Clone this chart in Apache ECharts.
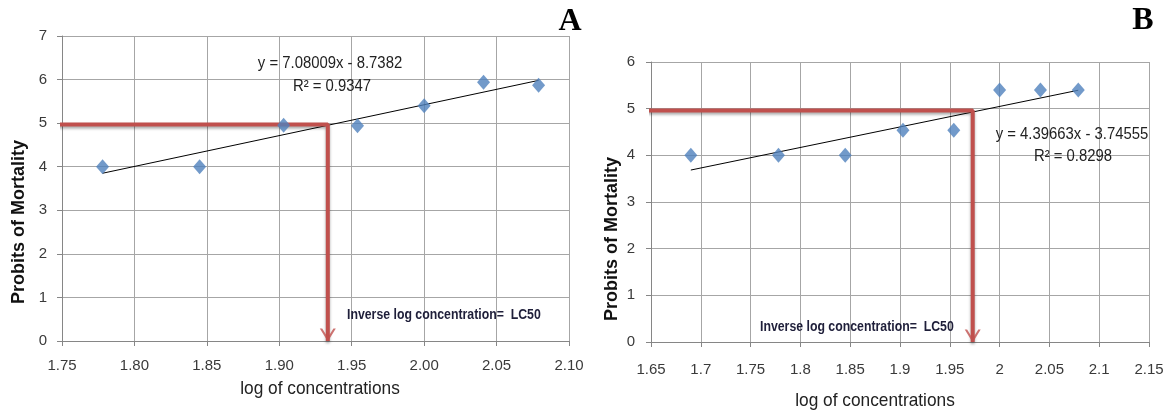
<!DOCTYPE html>
<html>
<head>
<meta charset="utf-8">
<script src="https://cdn.jsdelivr.net/npm/echarts@6/dist/echarts.min.js"></script>
<style>
html,body{margin:0;padding:0;background:#fff;}
#chart{width:1164px;height:411px;}
</style>
</head>
<body>
<div id="chart"></div>
<script>
// ---- Panel A data ----
const xA = [1.778, 1.845, 1.903, 1.954, 2.000, 2.041, 2.079];
const yA = [4.00, 4.00, 4.95, 4.94, 5.40, 5.94, 5.87];
const slopeA = 7.08009, interceptA = -8.7382;
const lc50A = 1.9335, levelA = 4.97, refStartA = 1.747;
const xTicksA = ['1.75','1.80','1.85','1.90','1.95','2.00','2.05','2.10'];
const yTicksA = ['0','1','2','3','4','5','6','7'];

// ---- Panel B data ----
const xB = [1.690, 1.778, 1.845, 1.903, 1.954, 2.000, 2.041, 2.079];
const yB = [4.00, 4.00, 4.00, 4.54, 4.54, 5.40, 5.40, 5.40];
const slopeB = 4.39663, interceptB = -3.74555;
const lc50B = 1.973, levelB = 4.96, refStartB = 1.644;
const xTicksB = ['1.65','1.7','1.75','1.8','1.85','1.9','1.95','2','2.05','2.1','2.15'];
const yTicksB = ['0','1','2','3','4','5','6'];

const FONT = '"Liberation Sans", Arial, sans-serif';
const RED = '#c0504d';
const BLUE = '#4f81bd';
const GRID = '#a6a6a6';
const AXIS = '#868686';

const chevron = 'path://M0,0 L3,0 L10,9 L17,0 L20,0 L10,13 Z';

function pts(xs, ys){ return xs.map((x,i)=>[x, ys[i]]); }
function trend(xs, m, b){
  const x0 = xs[0], x1 = xs[xs.length-1];
  return [[x0, m*x0+b],[x1, m*x1+b]];
}

function xAxisCfg(gi, min, max, labels, margin){
  return {
    type:'value', gridIndex:gi, min:min, max:max, interval:0.05,
    axisLine:{show:true, onZero:false, lineStyle:{color:AXIS, width:1}},
    axisTick:{show:true, length:5, lineStyle:{color:AXIS}},
    splitLine:{show:true, lineStyle:{color:GRID, width:1}},
    axisLabel:{fontFamily:FONT, fontSize:15, color:'#3a3a3a', margin:margin,
      formatter:(v,i)=>labels[i]!==undefined?labels[i]:String(v)}
  };
}
function yAxisCfg(gi, max, labels, margin){
  return {
    type:'value', gridIndex:gi, min:0, max:max, interval:1,
    axisLine:{show:true, lineStyle:{color:AXIS, width:1}},
    axisTick:{show:true, length:5, lineStyle:{color:AXIS}},
    splitLine:{show:true, lineStyle:{color:GRID, width:1}},
    axisLabel:{fontFamily:FONT, fontSize:15, color:'#3a3a3a', margin:margin,
      formatter:(v,i)=>labels[i]!==undefined?labels[i]:String(v)}
  };
}

function redSeries(idx, start, lc50, level){
  return [{
    type:'line', xAxisIndex:idx, yAxisIndex:idx, clip:false, symbol:'none', z:4,
    lineStyle:{color:RED, width:4, shadowColor:'rgba(0,0,0,0.35)', shadowBlur:3, shadowOffsetY:2},
    data:[[start, level],[lc50, level],[lc50, 0]]
  },{
    type:'scatter', xAxisIndex:idx, yAxisIndex:idx, clip:false, z:5,
    symbol:chevron, symbolSize:[16,13], symbolOffset:[0,-6],
    itemStyle:{color:RED},
    data:[[lc50, 0]]
  }];
}

function txt(s, x, y, font, opts){
  return Object.assign({type:'text', x:x, y:y, z:10,
    style:{text:s, font:font, fill:'#222', textAlign:'center', textVerticalAlign:'middle'}}, opts||{});
}

const eqFont = '16px ' + FONT;
const lcFont = 'bold 15px ' + FONT;
const nameFont = '19px ' + FONT;
const yNameFont = 'bold 18px ' + FONT;
const letterFont = 'bold 32px "Liberation Serif", "Times New Roman", serif';

const chart = echarts.init(document.getElementById('chart'), null, {renderer:'canvas'});
chart.setOption({
  animation:false,
  backgroundColor:'#ffffff',
  grid:[
    {left:62, top:36, width:507, height:305, containLabel:false, outerBoundsMode:'none'},
    {left:651, top:62, width:498, height:280, containLabel:false, outerBoundsMode:'none'}
  ],
  xAxis:[ xAxisCfg(0, 1.75, 2.10, xTicksA, 17), xAxisCfg(1, 1.65, 2.15, xTicksB, 20) ],
  yAxis:[ yAxisCfg(0, 7, yTicksA, 15), yAxisCfg(1, 6, yTicksB, 16) ],
  series:[
    ...redSeries(0, refStartA, lc50A, levelA),
    {type:'line', xAxisIndex:0, yAxisIndex:0, symbol:'none', z:3,
     lineStyle:{color:'#000', width:1}, data:trend(xA, slopeA, interceptA)},
    {type:'scatter', xAxisIndex:0, yAxisIndex:0, symbol:'diamond', symbolSize:[13,15], z:6,
     itemStyle:{color:BLUE}, data:pts(xA, yA)},
    ...redSeries(1, refStartB, lc50B, levelB),
    {type:'line', xAxisIndex:1, yAxisIndex:1, symbol:'none', z:3,
     lineStyle:{color:'#000', width:1}, data:trend(xB, slopeB, interceptB)},
    {type:'scatter', xAxisIndex:1, yAxisIndex:1, symbol:'diamond', symbolSize:[13,15], z:6,
     itemStyle:{color:BLUE}, data:pts(xB, yB)}
  ],
  graphic:[
    txt('A', 570, 22, letterFont, {style:{text:'A', font:letterFont, fill:'#000', textAlign:'center', textVerticalAlign:'middle'}}),
    txt('B', 1143, 21, letterFont, {style:{text:'B', font:letterFont, fill:'#000', textAlign:'center', textVerticalAlign:'middle'}}),
    txt('y = 7.08009x - 8.7382', 330, 64, eqFont, {scaleX:0.93}),
    txt('R² = 0.9347', 332, 87, eqFont, {scaleX:0.93}),
    txt('y = 4.39663x - 3.74555', 1072, 135, eqFont, {scaleX:0.93}),
    txt('R² = 0.8298', 1073, 157, eqFont, {scaleX:0.93}),
    txt('Inverse log concentration=  LC50', 347, 315, lcFont, {scaleX:0.82,
      style:{text:'Inverse log concentration=  LC50', font:lcFont, fill:'#1f1f3a', textAlign:'left', textVerticalAlign:'middle'}}),
    txt('Inverse log concentration=  LC50', 760, 327, lcFont, {scaleX:0.82,
      style:{text:'Inverse log concentration=  LC50', font:lcFont, fill:'#1f1f3a', textAlign:'left', textVerticalAlign:'middle'}}),
    txt('log of concentrations', 320, 389, nameFont, {scaleX:0.91}),
    txt('log of concentrations', 875, 401, nameFont, {scaleX:0.91}),
    txt('Probits of Mortality', 19, 222, yNameFont, {rotation:Math.PI/2,
      style:{text:'Probits of Mortality', font:yNameFont, fill:'#111', textAlign:'center', textVerticalAlign:'middle'}}),
    txt('Probits of Mortality', 612, 239, yNameFont, {rotation:Math.PI/2,
      style:{text:'Probits of Mortality', font:yNameFont, fill:'#111', textAlign:'center', textVerticalAlign:'middle'}})
  ]
});
</script>
</body>
</html>
